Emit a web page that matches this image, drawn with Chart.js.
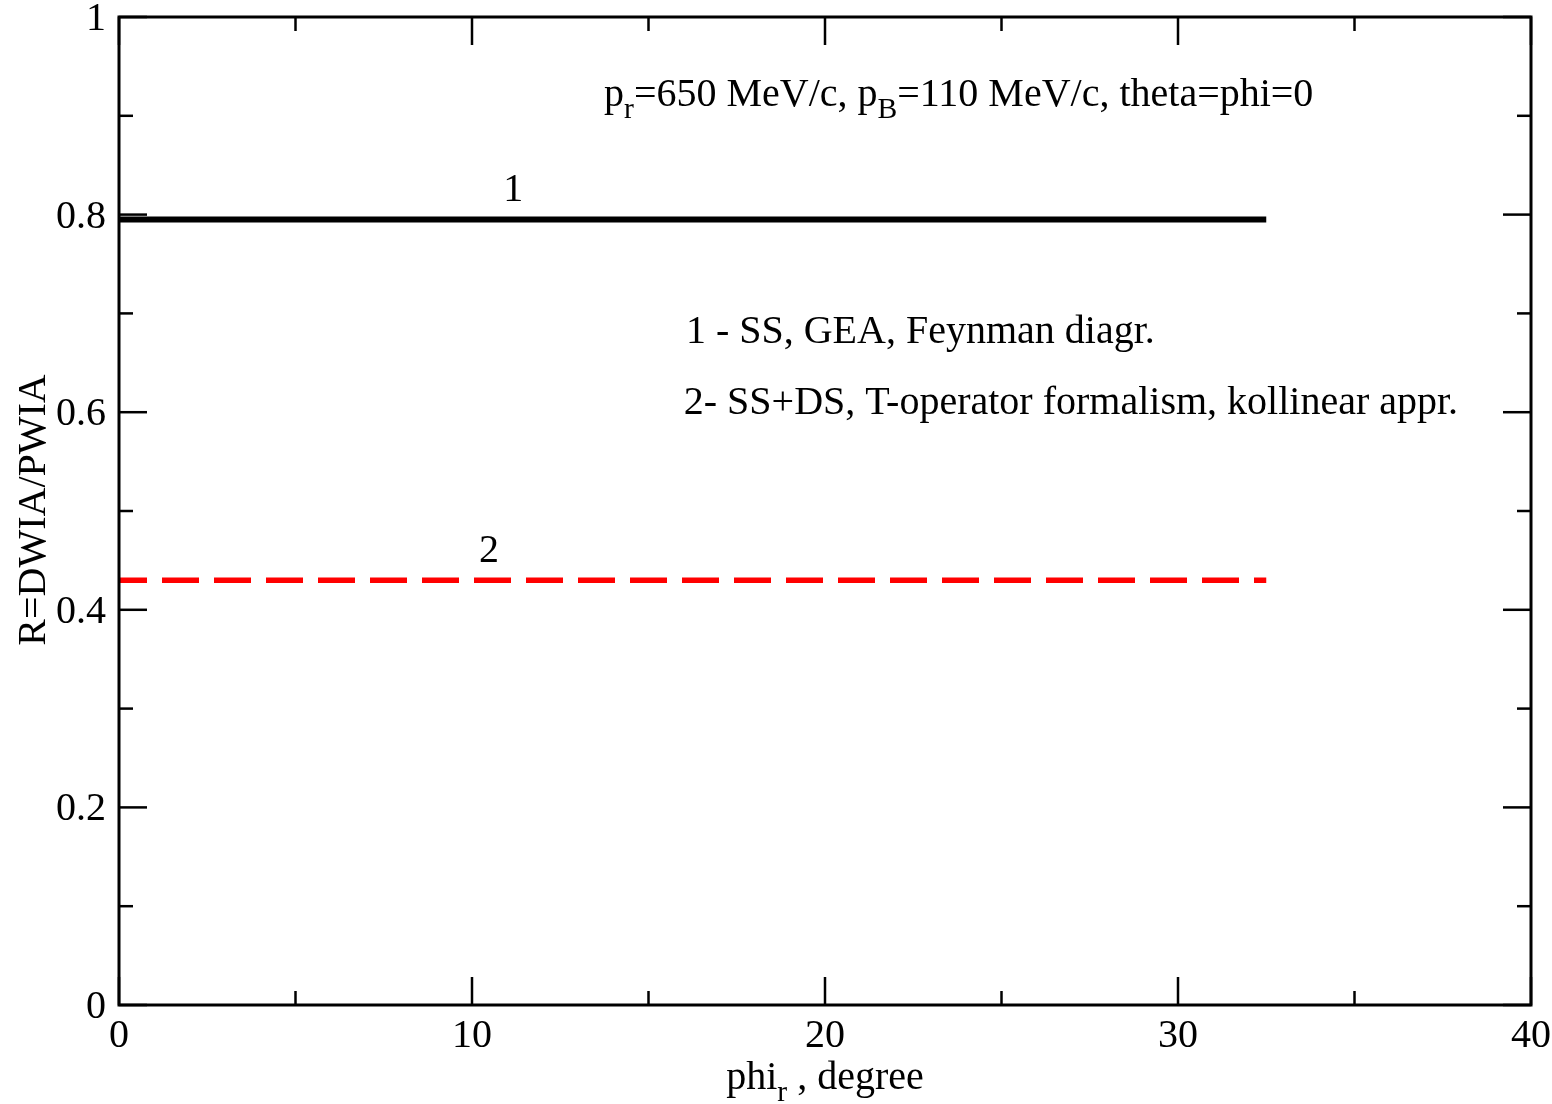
<!DOCTYPE html>
<html><head><meta charset="utf-8">
<script src="https://cdn.jsdelivr.net/npm/chart.js@4/dist/chart.umd.min.js"></script>
<style>html,body{margin:0;padding:0;background:#fff}#wrap{width:1552px;height:1104px}</style>
</head><body><div id="wrap"><canvas id="c" width="1552" height="1104"></canvas></div>
<script>
const phiValues = [0, 5, 10, 15, 20, 25, 30, 32.5];
const curve1 = [0.795, 0.795, 0.795, 0.795, 0.795, 0.795, 0.795, 0.795];
const curve2 = [0.430, 0.430, 0.430, 0.430, 0.430, 0.430, 0.430, 0.430];
const xTicks = [0, 10, 20, 30, 40];
const yTicks = [0, 0.2, 0.4, 0.6, 0.8, 1];
const xTickLabels = ['0', '10', '20', '30', '40'];
const yTickLabels = ['0', '0.2', '0.4', '0.6', '0.8', '1'];
const curveLabels = ['1', '2'];
const legendLines = ['1 - SS, GEA, Feynman diagr.', '2- SS+DS, T-operator formalism, kollinear appr.'];

const FONT = '"Liberation Serif", "DejaVu Serif", serif';
const FS = 40;

const frame = {
  id: 'frame',
  afterDraw(chart) {
    const {ctx, chartArea: a, scales: {x, y}} = chart;
    ctx.save();
    ctx.strokeStyle = '#000';
    ctx.lineWidth = 2.5;
    const tk = (x1, y1, x2, y2) => { ctx.beginPath(); ctx.moveTo(x1, y1); ctx.lineTo(x2, y2); ctx.stroke(); };
    for (let v = 0; v <= 40; v += 5) {
      const px = x.getPixelForValue(v);
      const L = (v % 10 === 0) ? 28 : 14;
      tk(px, a.bottom, px, a.bottom - L);
      tk(px, a.top, px, a.top + L);
    }
    for (let i = 0; i <= 10; i++) {
      const py = y.getPixelForValue(i / 10);
      const L = (i % 2 === 0) ? 28 : 14;
      tk(a.left, py, a.left + L, py);
      tk(a.right, py, a.right - L, py);
    }
    ctx.lineWidth = 3;
    ctx.strokeRect(a.left, a.top, a.right - a.left, a.bottom - a.top);

    ctx.fillStyle = '#000';
    ctx.font = `${FS}px ${FONT}`;
    ctx.textAlign = 'center';
    ctx.textBaseline = 'alphabetic';
    xTicks.forEach((v, i) => ctx.fillText(xTickLabels[i], x.getPixelForValue(v), a.bottom + 42));
    ctx.textAlign = 'right';
    yTicks.forEach((v, i) => ctx.fillText(yTickLabels[i], a.left - 13, y.getPixelForValue(v) + 13));

    const drawParts = (parts, sx, sy, size) => {
      let cx = sx;
      for (const p of parts) {
        ctx.font = `${p.sub ? size * 0.74 : size}px ${FONT}`;
        ctx.fillText(p.t, cx, p.sub ? sy + size * 0.3 : sy);
        cx += ctx.measureText(p.t).width;
      }
      return cx - sx;
    };
    const measureParts = (parts, size) => {
      let w = 0;
      for (const p of parts) {
        ctx.font = `${p.sub ? size * 0.74 : size}px ${FONT}`;
        w += ctx.measureText(p.t).width;
      }
      return w;
    };
    ctx.textAlign = 'left';
    drawParts([{t: 'p'}, {t: 'r', sub: true}, {t: '=650 MeV/c, p'}, {t: 'B', sub: true}, {t: '=110 MeV/c, theta=phi=0'}],
      x.getPixelForValue(13.74), y.getPixelForValue(0.910), FS);
    ctx.font = `${FS}px ${FONT}`;
    ctx.fillText(legendLines[0], x.getPixelForValue(16.06), y.getPixelForValue(0.670));
    ctx.fillText(legendLines[1], x.getPixelForValue(16.0), y.getPixelForValue(0.598));
    ctx.textAlign = 'center';
    ctx.fillText(curveLabels[0], x.getPixelForValue(11.17), y.getPixelForValue(0.814));
    ctx.fillText(curveLabels[1], x.getPixelForValue(10.48), y.getPixelForValue(0.448));
    ctx.textAlign = 'left';
    const xt = [{t: 'phi'}, {t: 'r', sub: true}, {t: ' , degree'}];
    const w = measureParts(xt, FS);
    drawParts(xt, 825 - w / 2, 1089, FS);
    ctx.save();
    ctx.translate(45, 510);
    ctx.rotate(-Math.PI / 2);
    ctx.textAlign = 'center';
    ctx.font = `${FS}px ${FONT}`;
    ctx.fillText('R=DWIA/PWIA', 0, 0);
    ctx.restore();
    ctx.restore();
  }
};

new Chart(document.getElementById('c'), {
  type: 'line',
  data: {
    datasets: [
      {data: phiValues.map((p, i) => ({x: p, y: curve1[i]})), borderColor: '#000', borderWidth: 6, pointRadius: 0, fill: false},
      {data: phiValues.map((p, i) => ({x: p, y: curve2[i]})), borderColor: '#ff0000', borderWidth: 5.5, borderDash: [37, 15], borderDashOffset: 9, pointRadius: 0, fill: false}
    ]
  },
  options: {
    responsive: false,
    animation: false,
    devicePixelRatio: 1,
    layout: {padding: {top: 17, right: 21, left: 0, bottom: 0}},
    plugins: {legend: {display: false}, tooltip: {enabled: false}},
    scales: {
      x: {
        type: 'linear', min: 0, max: 40,
        afterBuildTicks: s => { s.ticks = xTicks.map(v => ({value: v})); },
        afterFit: s => { s.height = 99; },
        grid: {display: false, drawTicks: false},
        border: {display: false},
        ticks: {display: false}
      },
      y: {
        type: 'linear', min: 0, max: 1,
        afterBuildTicks: s => { s.ticks = yTicks.map(v => ({value: v})); },
        afterFit: s => { s.width = 119; },
        grid: {display: false, drawTicks: false},
        border: {display: false},
        ticks: {display: false}
      }
    }
  },
  plugins: [frame]
});
</script></body></html>
